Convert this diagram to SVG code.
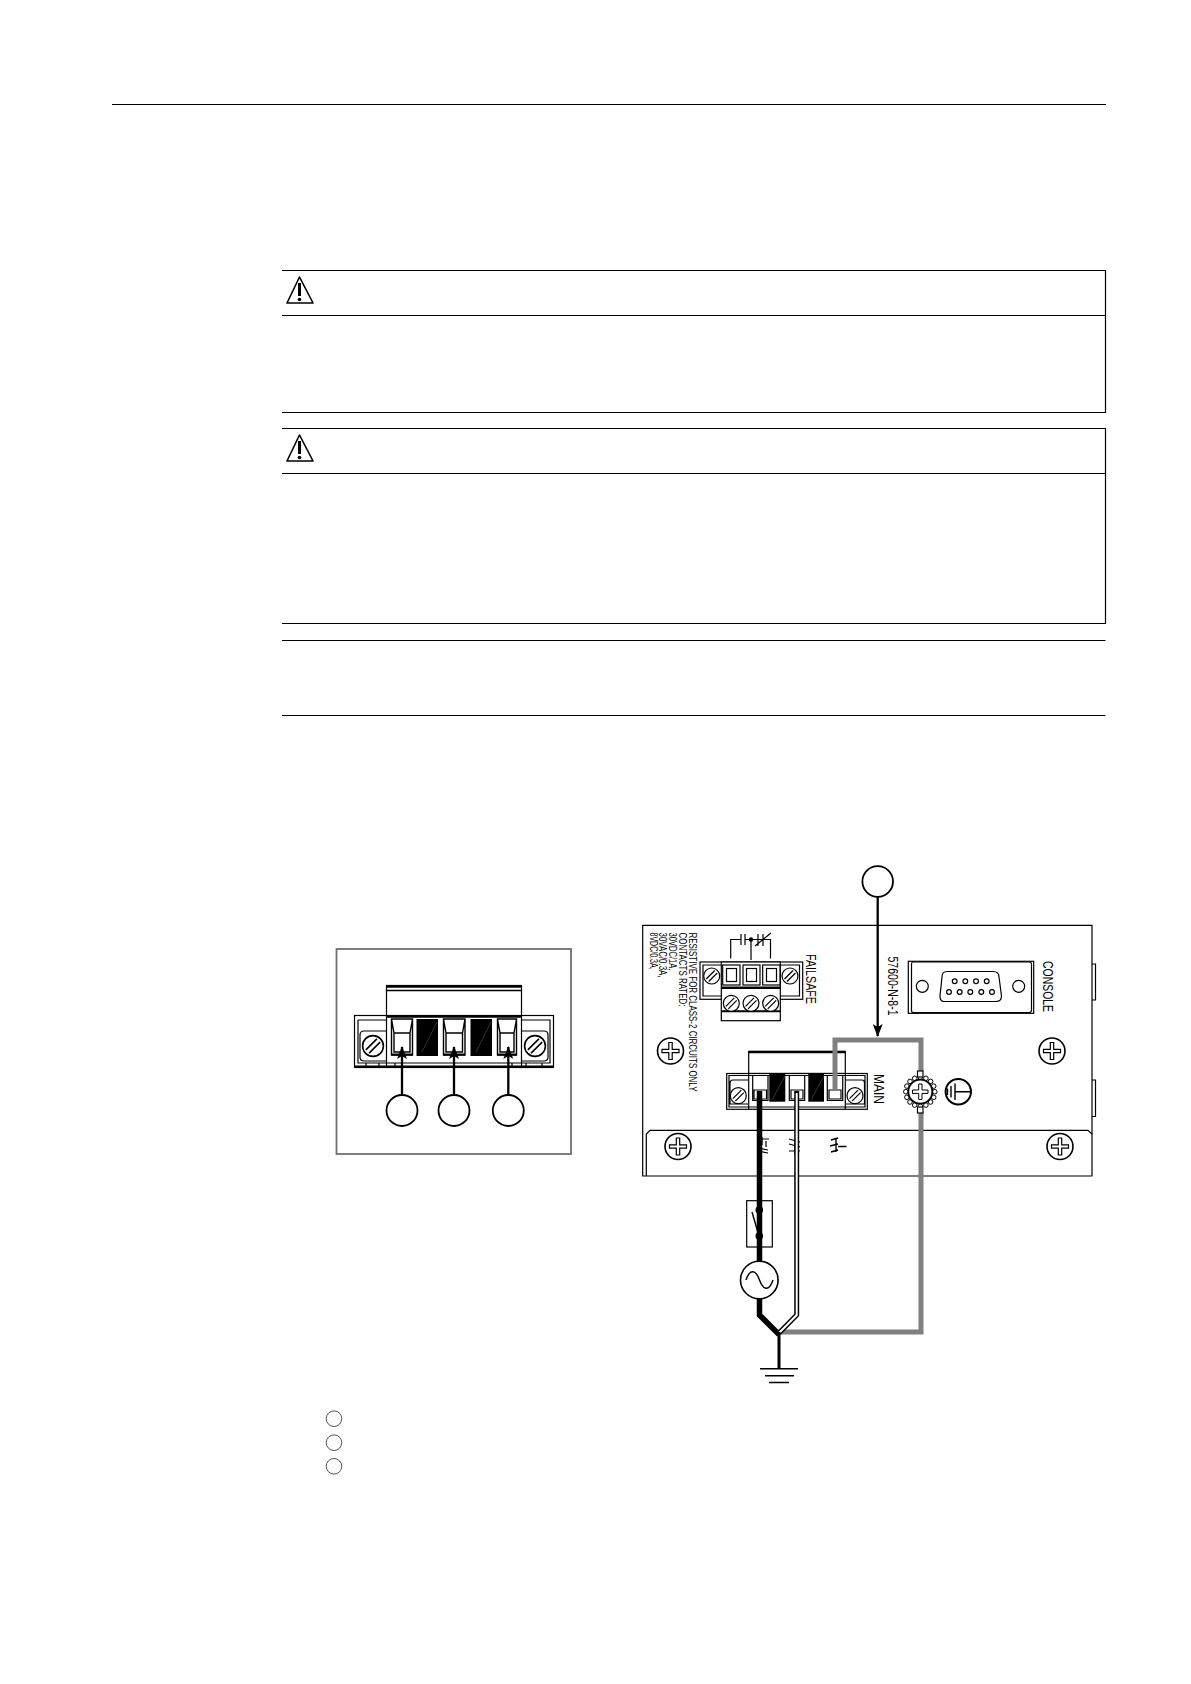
<svg xmlns="http://www.w3.org/2000/svg" xmlns:xlink="http://www.w3.org/1999/xlink" width="1191" height="1684" viewBox="0 0 1191 1684">
<style>
.l{fill:none;stroke:#000;stroke-width:1.2}
.m{fill:none;stroke:#000;stroke-width:1.4}
.w{fill:#fff;stroke:#000;stroke-width:1.2}
.b{fill:#000;stroke:none}
.d{stroke:#555;stroke-width:.6;fill:none}
.g{fill:none;stroke:#808080;stroke-width:5;stroke-linejoin:miter}
.a{fill:none;stroke:#000;stroke-width:2.300}
.t{font-family:"Liberation Sans",Arial,sans-serif;fill:#000}
</style>
<defs>
<marker id="ah" markerWidth="13" markerHeight="10" refX="12" refY="5" orient="auto" markerUnits="userSpaceOnUse"><path d="M0,0L13,5L0,10L3,5Z" fill="#000"/></marker>
<g id="slot"><circle r="8" class="w"/><path d="M-5.500,3L3,-5.500M-3,5.500L5.500,-3" class="l"/></g>
<g id="phil"><circle r="13" fill="#fff" stroke="#000" stroke-width="1.600"/><path d="M-1.700,-8.500H1.700V-1.700H8.500V1.700H1.700V8.500H-1.700V1.700H-8.500V-1.700H-1.700Z" fill="#fff" stroke="#000" stroke-width="1.200"/></g>
<g id="warn"><path d="M13.500,2L1,28H27Z" fill="#fff" stroke="#000" stroke-width="1.600" stroke-linejoin="round"/><path d="M13.500,8V21" stroke="#000" stroke-width="3"/><circle cx="13.500" cy="24.500" r="1.800" fill="#000"/></g>
<circle id="tooth" r="2.300" fill="#fff" stroke="#000" stroke-width="1"/>
</defs>
<g id="page-rules">
<path d="M112,104.500H1106" class="l"/>
<path d="M282,270.500H1105.500V412.500H282M282,315.500H1105.500" class="l"/>
<path d="M282,428.500H1105.500V623.500H282M282,473.500H1105.500" class="l"/>
<path d="M282,640.500H1105.500M282,715.500H1105.500" class="l"/>
</g>
<use id="warning-1" xlink:href="#warn" href="#warn" x="286" y="275"/>
<use id="warning-2" xlink:href="#warn" href="#warn" x="286" y="433"/>

<g id="left-figure">
<rect x="336.500" y="949" width="234.500" height="205" fill="#fff" stroke="#707070" stroke-width="1.800"/>
<rect x="386.500" y="985.500" width="135" height="30.500" class="w"/>
<path d="M386.500,986.500H521.500" stroke="#000" stroke-width="2.500"/>
<path d="M386.500,990.500H521.500" class="m"/>
<rect x="354.500" y="1015.500" width="199" height="52" class="w"/>
<path d="M354.500,1066.500H553.500" stroke="#000" stroke-width="2"/>
<path d="M386.500,1016.500H521.500" stroke="#000" stroke-width="2.500"/>
<path d="M386.500,1016V1067M521.500,1016V1067M358,1020H386M522,1020H550V1063H358V1020" class="l"/>
<path d="M386,1031H364Q360,1031 360,1035V1057Q360,1061 364,1061H386M522,1031H544Q548,1031 548,1035V1057Q548,1061 544,1061H522" class="l"/>
<use xlink:href="#slot" href="#slot" transform="translate(373,1046) scale(1.300)"/>
<use xlink:href="#slot" href="#slot" transform="translate(535,1046) scale(1.300)"/>
<path d="M366,1067V1063M379,1067V1063M395,1067V1063M512,1067V1063M526,1067V1063M542,1067V1063" class="l"/>
<rect x="416.500" y="1019" width="21.500" height="37" class="b"/>
<rect x="470.500" y="1019" width="21.500" height="37" class="b"/>
<path d="M422,1052L437,1022M476,1052L491,1022" class="d"/>
<g id="left-slots">
<path d="M391.500,1019H412.500V1055H391.500ZM394,1033H410V1052H394ZM391.500,1019L394,1033M412.500,1019L410,1033" class="m"/>
<path d="M443.500,1019H465V1055H443.500ZM446,1033H462.500V1052H446ZM443.500,1019L446,1033M465,1019L462.500,1033" class="m"/>
<path d="M497.500,1019H516.500V1055H497.500ZM500,1033H514V1052H500ZM497.500,1019L500,1033M516.500,1019L514,1033" class="m"/>
<path d="M391.500,1054.500H412.500M443.500,1054.500H465M497.500,1054.500H516.500" stroke="#000" stroke-width="2"/>
</g>
<circle cx="402" cy="1110.500" r="15.500" fill="#fff" stroke="#000" stroke-width="1.800"/>
<circle cx="454" cy="1110.500" r="15.500" fill="#fff" stroke="#000" stroke-width="1.800"/>
<circle cx="508.300" cy="1110.500" r="15.500" fill="#fff" stroke="#000" stroke-width="1.800"/>
<path d="M402,1095V1047" class="a" marker-end="url(#ah)"/>
<path d="M454,1095V1047" class="a" marker-end="url(#ah)"/>
<path d="M508.300,1095V1047" class="a" marker-end="url(#ah)"/>
</g>

<g id="panel">
<path d="M642.700,925.300H1092V1176H642.700Z" fill="#fff" stroke="#000" stroke-width="1.200"/>
<path d="M646.300,1176V1134L650,1130.300H1088L1092,1134" class="l"/>
<path d="M1092,964H1095.500V1000H1092M1092,1080H1095.500V1116.500H1092" class="l"/>
</g>
<use id="screw-1" xlink:href="#phil" href="#phil" x="670.500" y="1051"/>
<use id="screw-2" xlink:href="#phil" href="#phil" x="1052" y="1051"/>
<use id="screw-3" xlink:href="#phil" href="#phil" x="678" y="1146.500"/>
<use id="screw-4" xlink:href="#phil" href="#phil" x="1060" y="1146.500"/>

<g id="panel-labels">
<text class="t" font-size="11.300" transform="translate(688.500,932.500) rotate(90)" textLength="159" lengthAdjust="spacingAndGlyphs">RESISTIVE FOR CLASS-2 CIRCUITS ONLY</text>
<text class="t" font-size="11.300" transform="translate(678.500,932.500) rotate(90)" textLength="74" lengthAdjust="spacingAndGlyphs">CONTACTS RATED:</text>
<text class="t" font-size="11.300" transform="translate(669,932.500) rotate(90)" textLength="38" lengthAdjust="spacingAndGlyphs">30VDC/1A,</text>
<text class="t" font-size="11.300" transform="translate(659,932.500) rotate(90)" textLength="45" lengthAdjust="spacingAndGlyphs">30VAC/0.3A,</text>
<text class="t" font-size="11.300" transform="translate(649.500,932.500) rotate(90)" textLength="37" lengthAdjust="spacingAndGlyphs">8VDC/0.3A,</text>
<text class="t" font-size="15" transform="translate(806,954) rotate(90)" textLength="50" lengthAdjust="spacingAndGlyphs">FAILSAFE</text>
<text class="t" font-size="14" transform="translate(888,956.500) rotate(90)" textLength="59" lengthAdjust="spacingAndGlyphs">57600-N-8-1</text>
<text class="t" font-size="15" transform="translate(1043,961) rotate(90)" textLength="51" lengthAdjust="spacingAndGlyphs">CONSOLE</text>
<text class="t" font-size="15" transform="translate(874,1074) rotate(90)" textLength="30" lengthAdjust="spacingAndGlyphs">MAIN</text>
</g>

<g id="failsafe">
<path d="M730.700,958.500V939.500H741M741,934V945M745,934V945M745,939.500H770.500V958.500M751,939.500V960M758,934V946M763,934V946M755,946L771,933" class="l"/>
<circle cx="751" cy="939.500" r="2.200" class="b"/>
<rect x="700" y="962" width="102.700" height="37.300" class="w"/>
<path d="M703,965H799.500V996H703Z" class="l"/>
<rect x="721.300" y="962" width="59" height="58.700" class="w"/>
<path d="M721.300,987.700H780.300" stroke="#000" stroke-width="2.500"/>
<path d="M721.300,1011.300H780.300" stroke="#000" stroke-width="2"/>
<use xlink:href="#slot" href="#slot" transform="translate(711.700,976)"/>
<use xlink:href="#slot" href="#slot" transform="translate(790,976)"/>
<rect x="722.700" y="965" width="17.300" height="20" class="w"/>
<rect x="726.500" y="968.500" width="10" height="13" class="l"/>
<rect x="743" y="965" width="17" height="20" class="w"/>
<rect x="746.500" y="968.500" width="10" height="13" class="l"/>
<rect x="762.700" y="965" width="17.300" height="20" class="w"/>
<rect x="766.500" y="968.500" width="10" height="13" class="l"/>
<use xlink:href="#slot" href="#slot" transform="translate(731.300,1003.300)"/>
<use xlink:href="#slot" href="#slot" transform="translate(751,1003.300)"/>
<use xlink:href="#slot" href="#slot" transform="translate(770.700,1003.300)"/>
</g>

<g id="console">
<rect x="908.300" y="961.300" width="125.400" height="52" class="w"/>
<path d="M913,962H1029Q1031.500,962 1031.500,964V1010Q1031.500,1012.500 1029,1012.500H913Q911.500,1012.500 911.500,1010V964Q911.500,962 913,962Z" class="l"/>
<circle cx="922.300" cy="986.300" r="6" class="l"/>
<circle cx="1018.700" cy="986.300" r="6" class="l"/>
<path d="M947,971.500H993Q999,971.500 999,977L1001.500,996Q1001.500,1001.500 996,1001.500H944Q940,1001.500 940,996L942,977Q942,971.500 947,971.500Z" class="l"/>
<g class="l"><circle cx="954.700" cy="981.300" r="2.400"/><circle cx="965.300" cy="981.300" r="2.400"/><circle cx="976" cy="981.300" r="2.400"/><circle cx="986.700" cy="981.300" r="2.400"/><circle cx="949" cy="992" r="2.400"/><circle cx="959.700" cy="992" r="2.400"/><circle cx="970.300" cy="992" r="2.400"/><circle cx="981.300" cy="992" r="2.400"/><circle cx="992" cy="992" r="2.400"/></g>
</g>

<g id="main-connector">
<rect x="748.700" y="1051.500" width="96.600" height="22" class="w"/>
<path d="M748.700,1052H845.300" stroke="#000" stroke-width="2.500"/>
<rect x="726.700" y="1073.500" width="140.600" height="35.800" class="w"/>
<path d="M729,1075.500H865V1107H729ZM748.700,1073V1109M845.300,1073V1109M748,1080H733Q730,1080 730,1083V1104H748M846,1080H862Q864.500,1080 864.500,1083V1104H846" class="l"/>
<use xlink:href="#slot" href="#slot" transform="translate(738.300,1095.700)"/>
<use xlink:href="#slot" href="#slot" transform="translate(855,1095.700)"/>
<rect x="769.300" y="1074" width="16" height="27.700" class="b"/>
<rect x="808.300" y="1074" width="15.700" height="27.700" class="b"/>
<path d="M772,1100L785,1076M811,1100L824,1076" class="d"/>
<path d="M752.700,1075.500H768V1100.500H752.700ZM754,1090H766.500V1099H754ZM789.300,1075.500H804.700V1100.500H789.300ZM791,1090H803V1099H791ZM827.300,1075.500H842.700V1100.500H827.300ZM829,1090H841V1099H829Z" class="l"/>
</g>

<g id="ground-stud">
<use xlink:href="#tooth" href="#tooth" x="920.300" y="1077.200"/><use xlink:href="#tooth" href="#tooth" x="925.900" y="1078.300"/><use xlink:href="#tooth" href="#tooth" x="930.600" y="1081.400"/><use xlink:href="#tooth" href="#tooth" x="933.700" y="1086.100"/><use xlink:href="#tooth" href="#tooth" x="934.800" y="1091.700"/><use xlink:href="#tooth" href="#tooth" x="933.700" y="1097.300"/><use xlink:href="#tooth" href="#tooth" x="930.600" y="1102"/><use xlink:href="#tooth" href="#tooth" x="925.900" y="1105.100"/><use xlink:href="#tooth" href="#tooth" x="920.300" y="1106.200"/><use xlink:href="#tooth" href="#tooth" x="914.700" y="1105.100"/><use xlink:href="#tooth" href="#tooth" x="910" y="1102"/><use xlink:href="#tooth" href="#tooth" x="906.900" y="1097.300"/><use xlink:href="#tooth" href="#tooth" x="905.800" y="1091.700"/><use xlink:href="#tooth" href="#tooth" x="906.900" y="1086.100"/><use xlink:href="#tooth" href="#tooth" x="910" y="1081.400"/><use xlink:href="#tooth" href="#tooth" x="914.700" y="1078.300"/>
<circle cx="920.300" cy="1091.700" r="12" fill="#fff" stroke="#000" stroke-width="1.800"/>
<path d="M918.700,1084H922V1090H928V1093.400H922V1099.500H918.700V1093.400H912.500V1090H918.700Z" fill="#fff" stroke="#000" stroke-width="1"/>
<circle cx="958.300" cy="1091.700" r="12.700" fill="#fff" stroke="#000" stroke-width="2"/>
<path d="M955,1091.700H971M955,1083.500V1100M951,1086V1097.500M947.500,1088.500V1095" class="m"/>
</g>

<g id="terminal-marks">
<path d="M757,1139H769M762,1137V1145M766,1147V1141M758,1148L768,1150M758,1151L768,1153" class="l"/>
<path d="M789,1139L800,1142M789,1144L800,1147M789,1151H800M795,1140V1155" class="l"/>
<path d="M838,1146.500H846.500M836,1139V1152M831,1140L838,1138M830,1146L838,1144M831,1152L838,1150" class="m"/>
</g>

<g id="switch">
<rect x="746.700" y="1200.700" width="25.600" height="46.300" class="w" stroke-width="1.600"/>
</g>
<g id="connectors">
<path d="M835,1090V1040H921V1071M921,1112V1332H777" class="g"/>
<path d="M759.500,1091V1315L779,1334.500" fill="none" stroke="#000" stroke-width="5.500"/>
<path d="M796.700,1091V1315L779,1333" fill="none" stroke="#000" stroke-width="5"/>
<path d="M796.700,1093V1315L779,1333" fill="none" stroke="#fff" stroke-width="2"/>
<path d="M779,1332V1369" fill="none" stroke="#000" stroke-width="3"/>
<path d="M877.700,897V1036" class="a" marker-end="url(#ah)"/>
<path d="M760,1368.800H798M765,1375.800H794M769,1382.500H789" fill="none" stroke="#000" stroke-width="1.500"/>
</g>
<g id="stud-lugs">
<rect x="917.500" y="1071" width="5.500" height="6" class="w"/>
<rect x="917.500" y="1107" width="5.500" height="6" class="w"/>
</g>
<g id="switch-contacts">
<circle cx="759.300" cy="1210" r="3.800" class="b"/>
<circle cx="759.300" cy="1236" r="3.800" class="b"/>
<path d="M752,1212L759,1236" class="m"/>
</g>
<g id="ac-source">
<circle cx="759.300" cy="1280" r="18.800" fill="#fff" stroke="#000" stroke-width="1.600"/>
<path d="M746,1280C750,1268 756,1270 759.500,1280S769,1292 773,1280" class="m"/>
</g>
<g id="callout-top"><circle cx="877.700" cy="881.500" r="15.300" fill="#fff" stroke="#000" stroke-width="1.800"/></g>
<g id="legend">
<circle cx="334" cy="1418.700" r="7.800" fill="#fff" stroke="#555" stroke-width="1"/>
<circle cx="334" cy="1442.700" r="7.800" fill="#fff" stroke="#555" stroke-width="1"/>
<circle cx="334" cy="1466.300" r="7.800" fill="#fff" stroke="#555" stroke-width="1"/>
</g>
</svg>
